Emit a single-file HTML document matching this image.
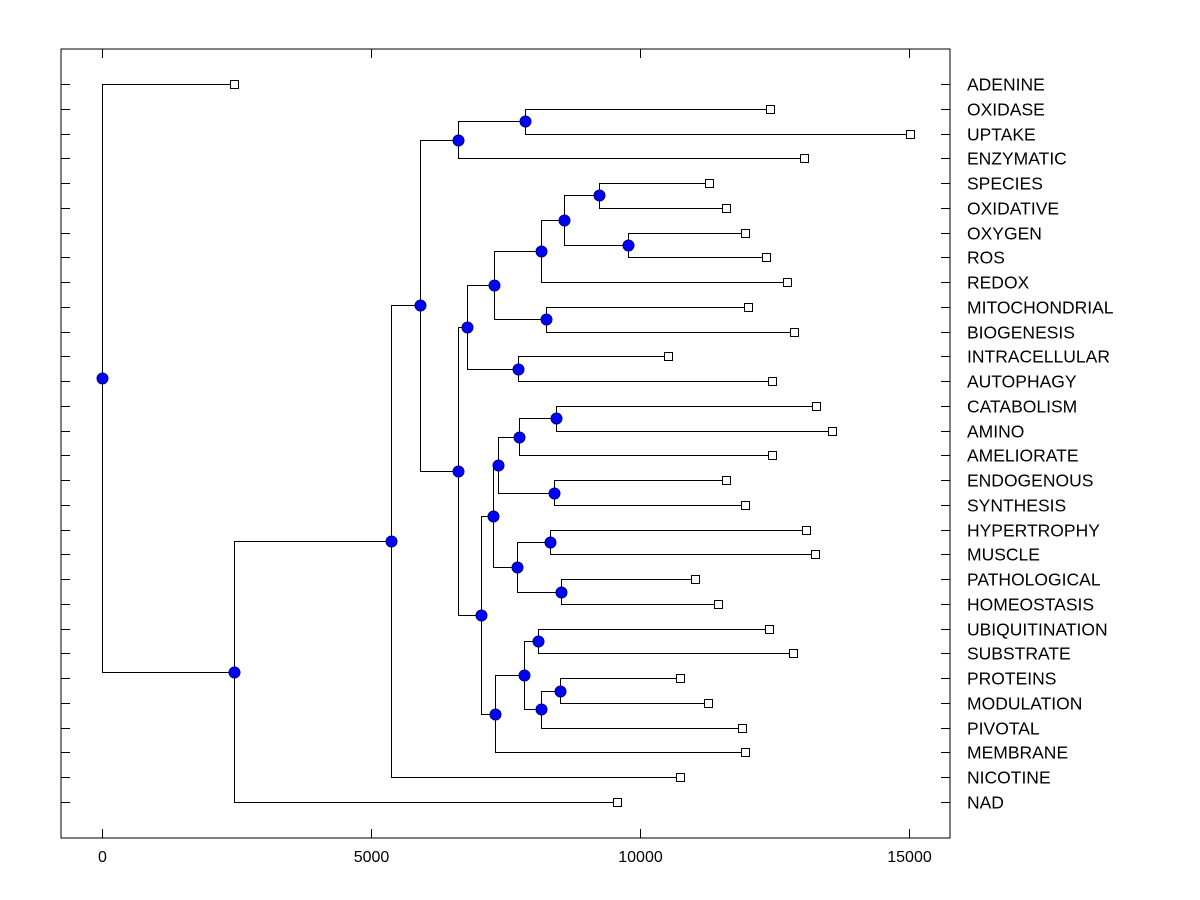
<!DOCTYPE html>
<html><head><meta charset="utf-8"><style>
html,body{margin:0;padding:0;background:#fff;}
svg{display:block;font-family:"Liberation Sans",Arial,sans-serif;}
</style></head><body>
<svg id="chart" width="1200" height="900" viewBox="0 0 1200 900" xmlns="http://www.w3.org/2000/svg"></svg>
<script>
const leaves = ["ADENINE","OXIDASE","UPTAKE","ENZYMATIC","SPECIES","OXIDATIVE","OXYGEN","ROS","REDOX","MITOCHONDRIAL","BIOGENESIS","INTRACELLULAR","AUTOPHAGY","CATABOLISM","AMINO","AMELIORATE","ENDOGENOUS","SYNTHESIS","HYPERTROPHY","MUSCLE","PATHOLOGICAL","HOMEOSTASIS","UBIQUITINATION","SUBSTRATE","PROTEINS","MODULATION","PIVOTAL","MEMBRANE","NICOTINE","NAD"];
const leafValues = [2454,12416,15019,13048,11283,11599,11952,12342,12732,12007,12862,10520,12454,13271,13569,12454,11599,11952,13086,13253,11022,11450,12398,12844,10743,11264,11896,11952,10743,9572];
// merges: child = leaf name or "#index" of earlier merge
const mergeA = ["OXIDASE","#0","SPECIES","OXYGEN","#2","#4","MITOCHONDRIAL","#5","INTRACELLULAR","#7","CATABOLISM","#10","ENDOGENOUS","#11","HYPERTROPHY","PATHOLOGICAL","#14","#13","PROTEINS","#18","UBIQUITINATION","#20","#21","#17","#9","#1","#25","#26","ADENINE"];
const mergeB = ["UPTAKE","ENZYMATIC","OXIDATIVE","ROS","#3","REDOX","BIOGENESIS","#6","AUTOPHAGY","#8","AMINO","AMELIORATE","SYNTHESIS","#12","MUSCLE","HOMEOSTASIS","#15","#16","MODULATION","PIVOTAL","SUBSTRATE","#19","MEMBRANE","#22","#23","#24","NICOTINE","NAD","#27"];
const mergeHeights = [7862,6617,9238,9777,8587,8160,8253,7286,7732,6784,8439,7751,8401,7360,8327,8532,7714,7268,8513,8160,8104,7844,7305,7045,6617,5911,5372,2454,0];
const xTicks = [0,5000,10000,15000];

const NS="http://www.w3.org/2000/svg";
const svg=document.getElementById('chart');
const L=61,R=950,T=49,B=838;
const xs=v=>102+(v/5000)*269;
const ys=i=>84+i*(802-84)/(leaves.length-1);
function mk(tag,attrs,parent){const e=document.createElementNS(NS,tag);for(const k in attrs)e.setAttribute(k,attrs[k]);(parent||svg).appendChild(e);return e;}

const frame=mk('rect',{x:L,y:T,width:R-L,height:B-T,fill:'none',stroke:'#000','stroke-width':1});



const axisG=mk('g',{});


xTicks.forEach(t=>{
  const x=xs(t)+0.5;
  mk('line',{x1:x,y1:B,x2:x,y2:B-9,stroke:'#000'},axisG);
  mk('line',{x1:x,y1:T,x2:x,y2:T+9,stroke:'#000'},axisG);
  const tx=mk('text',{x:x,y:862,'text-anchor':'middle','font-size':16,fill:'#000'},axisG);
  tx.textContent=t;
  
  
});

const pos={};
leaves.forEach((n,i)=>{pos[n]={x:xs(leafValues[i]),y:ys(i)};});
const nodePos=[];
function getP(c){return c[0]==='#'?nodePos[+c.slice(1)]:pos[c];}
for(let k=0;k<mergeA.length;k++){
  const a=getP(mergeA[k]),b=getP(mergeB[k]);
  nodePos[k]={x:xs(mergeHeights[k]),y:(a.y+b.y)/2};
}
const linkG=mk('g',{fill:'none',stroke:'#000','stroke-width':1});


for(let k=0;k<mergeA.length;k++){
  const p=nodePos[k];
  [mergeA[k],mergeB[k]].forEach(c=>{
    const q=getP(c);
    const px=Math.round(p.x)+0.5, py=Math.round(q.y)+0.5;
    mk('path',{d:`M${px},${Math.round(p.y)+0.5}V${py}H${Math.round(q.x)+0.5}`},linkG);
  });
}
leaves.forEach((n,i)=>{
  const y=Math.round(ys(i))+0.5;
  mk('line',{x1:L,y1:y,x2:L+9,y2:y,stroke:'#000'});
  mk('line',{x1:R,y1:y,x2:R-9,y2:y,stroke:'#000'});
  const p=pos[n];
  const sq=mk('rect',{x:Math.round(p.x)-3.5,y:y-4,width:8,height:8,fill:'#fff',stroke:'#000'});
  
  
  const t=mk('text',{x:967,y:y+6,'font-size':17.5,fill:'#000'});
  t.textContent=n;
  
  
});
nodePos.forEach((p,k)=>{
  const c=mk('circle',{cx:Math.round(p.x)+0.5,cy:Math.round(p.y)+0.5,r:5.5,fill:'#0000ff',stroke:'#000080','stroke-width':1});
  
  
});
</script>
</body></html>
